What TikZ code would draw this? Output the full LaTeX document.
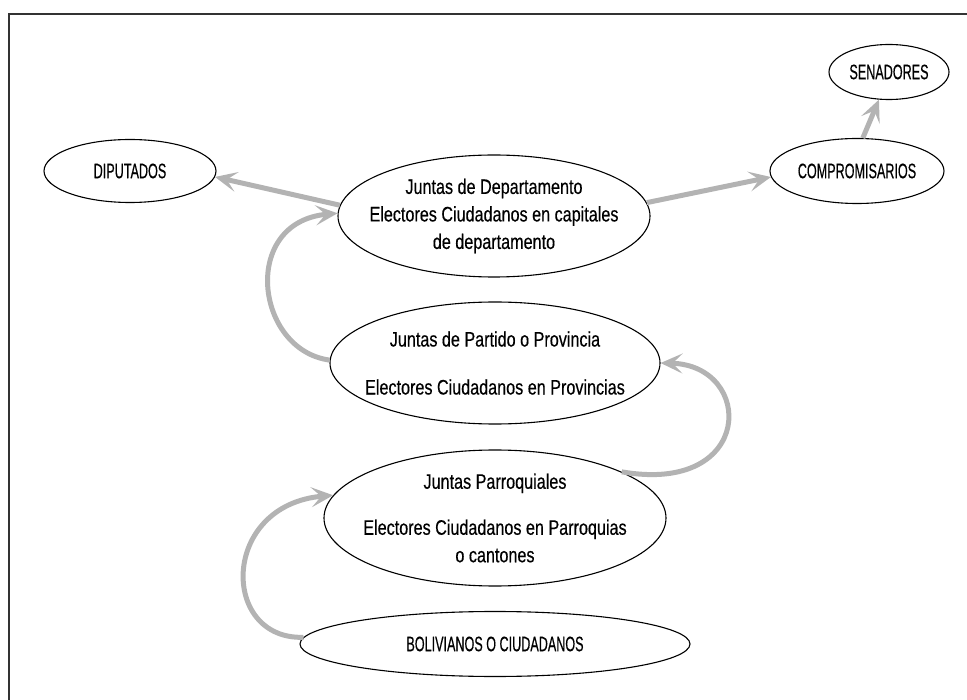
\documentclass[tikz,border=0pt]{standalone}
\usepackage{fontspec}
\setmainfont[FakeStretch=0.77,FakeBold=0.4]{Liberation Sans}
\newfontfamily\capsfont[FakeStretch=0.6,FakeBold=0.4]{Liberation Sans}
\usetikzlibrary{shapes.geometric,arrows.meta}
\definecolor{arrowgray}{HTML}{B3B3B3}
\definecolor{framegray}{HTML}{333333}
\tikzset{
  ell/.style={draw=black, line width=1.1pt, ellipse, inner sep=0pt},
  txt/.style={font=\fontsize{21}{27.5}\selectfont, align=center, inner sep=0pt},
  captxt/.style={font=\capsfont\fontsize{21}{25}\selectfont, inner sep=0pt},
  flow/.style={draw=arrowgray, line width=5pt,
    -{Stealth[length=22pt,width=20pt,inset=10pt]}},
  frame/.style={draw=framegray, line width=1.6pt}
}
\begin{document}
\begin{tikzpicture}[x=1pt,y=-1pt]
\useasboundingbox (0,0) rectangle (967,700);
\coordinate (fTL) at (9,14);
\coordinate (fTR) at (967,14);
\coordinate (fBL) at (9,700);
\draw[frame] (fTR) -- (fTL) -- (fBL);

% ellipses
\node[ell, minimum width=120pt, minimum height=55pt] (sen) at (889,72) {};
\node[ell, minimum width=174pt, minimum height=65pt] (comp) at (857,171) {};
\node[ell, minimum width=172pt, minimum height=63pt] (dip) at (130,171) {};
\node[ell, minimum width=312pt, minimum height=122pt] (dept) at (494,216) {};
\node[ell, minimum width=330pt, minimum height=122pt] (part) at (495,363) {};
\node[ell, minimum width=342pt, minimum height=136pt] (parr) at (495,518) {};
\node[ell, minimum width=390pt, minimum height=65pt] (bol) at (495,644) {};

% texts
\node[captxt] (sen-t) at (sen) {SENADORES};
\node[captxt] (comp-t) at (comp) {COMPROMISARIOS};
\node[captxt] (dip-t) at (dip) {DIPUTADOS};
\node[captxt] (bol-t) at (bol) {BOLIVIANOS O CIUDADANOS};
\node[txt] (dept-t) at (dept) {Juntas de Departamento\\Electores Ciudadanos en capitales\\de departamento};
\node[txt] (part-t) at (part) {Juntas de Partido o Provincia\\[20.5pt]Electores Ciudadanos en Provincias};
\node[txt] (parr-t) at (parr) {Juntas Parroquiales\\[18.5pt]Electores Ciudadanos en Parroquias\\o cantones};

% connectors
\draw[flow] (dept.176) -- (dip.-4);
\draw[flow] (dept.5) -- (comp.184.6);
\draw[flow] (comp.80) -- (sen.250);
\draw[flow] (part.179) .. controls (255,350) and (240,222) .. (dept.179);
\draw[flow] (parr.20) .. controls (755,495) and (755,365) .. (part.0);
\draw[flow] (bol.178) .. controls (220,640) and (220,505) .. (parr.172);
\end{tikzpicture}
\end{document}
